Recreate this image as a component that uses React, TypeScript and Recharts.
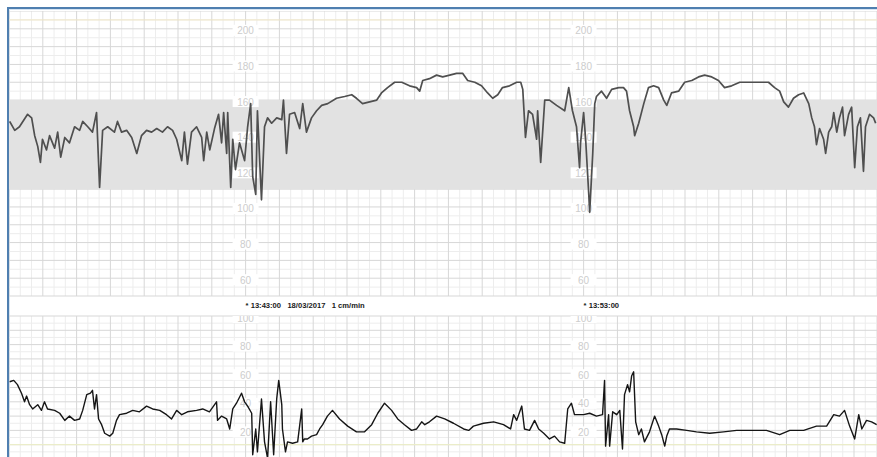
import React from 'react';
import { ComposedChart, Line, XAxis, YAxis, ReferenceLine, ReferenceArea, Scatter } from 'recharts';

// time axis: minutes since 13:36:00 (paper speed 1 cm/min)
const fhrMinutes = [
  0.02, 0.17, 0.31, 0.55, 0.67, 0.76, 0.85, 0.93, 0.99, 1.11, 1.2, 1.35, 1.44, 1.53, 1.65, 1.79, 1.94, 2.09, 2.18, 2.33,
  2.47, 2.59, 2.68, 2.77, 2.92, 3.12, 3.21, 3.33, 3.48, 3.63, 3.78, 3.92, 4.07, 4.22, 4.37, 4.54, 4.69, 4.84, 4.96, 5.11,
  5.19, 5.28, 5.4, 5.55, 5.7, 5.76, 5.85, 5.94, 6.08, 6.2, 6.29, 6.35, 6.44, 6.47, 6.56, 6.62, 6.7, 6.82, 6.97, 7.06,
  7.15, 7.21, 7.3, 7.35, 7.47, 7.56, 7.65, 7.77, 7.92, 8.07, 8.12, 8.21, 8.3, 8.45, 8.6, 8.69, 8.8, 8.95, 9.1, 9.25,
  9.43, 9.69, 9.93, 10.14, 10.28, 10.46, 10.67, 10.88, 11.02, 11.2, 11.41, 11.62, 11.85, 12.06, 12.15, 12.24, 12.44, 12.65, 12.83, 13.04,
  13.24, 13.42, 13.57, 13.78, 13.98, 14.16, 14.31, 14.46, 14.6, 14.81, 15.02, 15.14, 15.2, 15.28, 15.37, 15.49, 15.61, 15.64, 15.73, 15.85,
  15.99, 16.2, 16.44, 16.56, 16.67, 16.79, 16.88, 16.91, 17.0, 17.06, 17.15, 17.18, 17.27, 17.33, 17.38, 17.53, 17.68, 17.83, 18.04, 18.18,
  18.27, 18.36, 18.48, 18.51, 18.63, 18.78, 18.92, 19.07, 19.22, 19.37, 19.46, 19.6, 19.81, 19.99, 20.2, 20.4, 20.58, 20.79, 20.99, 21.17,
  21.38, 21.62, 21.91, 22.21, 22.47, 22.65, 22.8, 22.92, 23.06, 23.21, 23.36, 23.51, 23.66, 23.75, 23.83, 23.89, 23.98, 24.1, 24.16, 24.25,
  24.34, 24.4, 24.49, 24.57, 24.66, 24.72, 24.84, 24.93, 25.02, 25.1, 25.19, 25.28, 25.34, 25.46, 25.58, 25.64,
];
const fhrBpm = [
  148, 143, 145, 152, 150, 140, 134, 125, 138, 132, 140, 133, 142, 128, 139, 136, 145, 143, 148, 145,
  142, 153, 111, 143, 145, 142, 148, 142, 143, 139, 130, 140, 143, 142, 144, 142, 145, 143, 138, 126,
  142, 124, 142, 145, 139, 126, 142, 132, 144, 152, 136, 153, 130, 153, 111, 138, 121, 136, 126, 145,
  158, 117, 107, 154, 104, 145, 150, 147, 150, 149, 160, 130, 152, 153, 144, 158, 142, 150, 154, 157,
  158, 161, 162, 163, 161, 158, 159, 160, 164, 167, 170, 170, 168, 167, 165, 171, 172, 174, 173, 174,
  175, 175, 171, 170, 168, 164, 161, 163, 167, 168, 170, 170, 166, 139, 154, 152, 138, 154, 125, 160,
  160, 157, 154, 167, 154, 145, 122, 136, 153, 138, 108, 97, 130, 158, 162, 165, 161, 166, 167, 167,
  165, 154, 145, 140, 147, 158, 167, 168, 167, 160, 157, 164, 165, 170, 171, 173, 174, 173, 171, 167,
  168, 170, 170, 170, 170, 167, 165, 159, 156, 161, 163, 164, 158, 150, 145, 135, 144, 138, 130, 142,
  145, 153, 142, 150, 156, 140, 152, 156, 122, 145, 150, 120, 145, 152, 150, 147,
];

const uaMinutes = [
  0.02, 0.14, 0.25, 0.37, 0.46, 0.52, 0.61, 0.7, 0.85, 0.96, 1.05, 1.14, 1.35, 1.5, 1.65, 1.79, 1.94, 2.09, 2.18, 2.3,
  2.41, 2.47, 2.53, 2.59, 2.65, 2.74, 2.83, 2.98, 3.07, 3.18, 3.27, 3.48, 3.66, 3.86, 4.07, 4.25, 4.46, 4.66, 4.81, 4.96,
  5.11, 5.28, 5.55, 5.73, 5.93, 6.14, 6.17, 6.29, 6.44, 6.53, 6.62, 6.73, 6.88, 6.97, 7.06, 7.18, 7.21, 7.3, 7.35, 7.47,
  7.56, 7.65, 7.74, 7.83, 7.92, 7.98, 8.07, 8.09, 8.18, 8.24, 8.39, 8.54, 8.66, 8.69, 8.74, 8.83, 8.95, 9.1, 9.19, 9.28,
  9.42, 9.57, 9.78, 10.02, 10.28, 10.52, 10.73, 10.91, 11.11, 11.32, 11.5, 11.7, 11.91, 12.06, 12.21, 12.3, 12.44, 12.65, 12.89, 13.15,
  13.45, 13.6, 13.74, 14.04, 14.34, 14.63, 14.84, 14.93, 15.02, 15.17, 15.25, 15.4, 15.55, 15.67, 15.82, 15.99, 16.14, 16.29, 16.44, 16.53,
  16.64, 16.73, 17.0, 17.18, 17.38, 17.56, 17.62, 17.65, 17.74, 17.77, 17.86, 17.98, 18.07, 18.15, 18.21, 18.3, 18.36, 18.42, 18.48, 18.54,
  18.63, 18.71, 18.8, 18.95, 19.1, 19.22, 19.31, 19.4, 19.46, 19.54, 19.75, 20.05, 20.34, 20.73, 21.14, 21.53, 22.03, 22.41, 22.8, 23.1,
  23.51, 23.89, 24.19, 24.4, 24.57, 24.72, 24.87, 25.02, 25.14, 25.23, 25.37, 25.52, 25.67,
];
const uaPressure = [
  54, 55, 52, 46, 40, 44, 38, 35, 38, 34, 40, 35, 34, 32, 27, 30, 27, 28, 34, 45,
  46, 48, 35, 45, 28, 24, 18, 16, 18, 27, 31, 32, 34, 33, 37, 35, 34, 31, 28, 34,
  31, 33, 34, 35, 33, 40, 27, 30, 28, 21, 35, 39, 46, 40, 37, 32, 3, 21, 5, 42,
  12, 0.5, 40, 3, 42, 55, 38, 21, 5, 12, 11, 12, 35, 12, 14, 14, 16, 17, 21, 24,
  30, 34, 28, 23, 19, 19, 24, 32, 39, 34, 28, 24, 20, 21, 26, 24, 26, 30, 28, 25,
  21, 20, 23, 25, 26, 24, 21, 31, 27, 37, 21, 20, 27, 21, 18, 14, 16, 12, 11, 35,
  39, 31, 31, 32, 30, 31, 55, 9, 31, 9, 33, 31, 34, 7, 45, 52, 47, 58, 61, 26,
  17, 21, 12, 19, 30, 23, 17, 9, 16, 21, 21, 20, 19, 18, 19, 20, 20, 20, 17, 20,
  20, 23, 23, 31, 30, 34, 23, 14, 31, 21, 27, 26, 24,
];

const markerMinutes = [7, 17];
const markerTexts = ['*\u00a013:43:00\u00a0\u00a0 18/03/2017\u00a0\u00a0 1 cm/min', '*\u00a013:53:00'];
const fhrScaleLabels = [200, 180, 160, 140, 120, 100, 80, 60];
const uaScaleLabels = [100, 80, 60, 40, 20];

const T_MAX = 25.68;
const fhrData = fhrMinutes.map((t, i) => ({ t, v: fhrBpm[i] }));
const uaData = uaMinutes.map((t, i) => ({ t, v: uaPressure[i] }));
const fhrLabelData = markerMinutes.flatMap((t) => fhrScaleLabels.map((v) => ({ t, v })));
const uaLabelData = markerMinutes.flatMap((t) => uaScaleLabels.map((v) => ({ t, v })));

function offMinute(m: number) {
  return Math.abs(m - Math.round(m)) > 0.01;
}
const thirds = Array.from({ length: 78 }, (_, i) => i / 3).filter((m) => m <= T_MAX && offMinute(m));
const wholeMinutes = Array.from({ length: 26 }, (_, i) => i);
const fhrFine = Array.from({ length: 33 }, (_, i) => 50 + i * 5).filter((v) => v % 10 !== 0);
const fhrMajor = Array.from({ length: 17 }, (_, i) => 50 + i * 10);
const uaFine = Array.from({ length: 10 }, (_, i) => 5 + i * 10);
const uaMajor = Array.from({ length: 11 }, (_, i) => i * 10);

const FINE = '#ededed';
const MAJOR = '#d7d7d7';

const ScaleLabel = (props: any) => {
  const { cx, cy, payload } = props;
  return (
    <g>
      <rect x={cx - 13} y={cy - 4} width={26} height={11} fill="#ffffff" />
      <text x={cx} y={cy + 2} textAnchor="middle" dominantBaseline="central" fontSize={10} fill="#cdcdcd" fontFamily="Arial, 'Liberation Sans', sans-serif">
        {payload.v}
      </text>
    </g>
  );
};

const MarkerTick = (props: any) => {
  const { x, y, payload } = props;
  const idx = markerMinutes.indexOf(payload.value);
  return (
    <text x={x} y={y + 9} dominantBaseline="central" fontSize={7.6} fontWeight="bold" fill="#1a1a1a" fontFamily="Arial, 'Liberation Sans', sans-serif">
      {markerTexts[idx]}
    </text>
  );
};

function timeGrid() {
  return [
    ...thirds.map((m) => <ReferenceLine key={'tf' + m} x={m} stroke={FINE} strokeWidth={1} zIndex={-100} />),
    ...wholeMinutes.map((m) => <ReferenceLine key={'tm' + m} x={m} stroke={MAJOR} strokeWidth={1} zIndex={-90} />),
  ];
}

export default function App() {
  return (
    <div style={{ position: 'fixed', left: 0, top: 0, width: 877, height: 457, overflow: 'hidden', background: '#fff' }}>
      <div style={{ position: 'absolute', left: 7, top: 7, width: 880, height: 460, borderLeft: '2px solid #4f7fb0', borderTop: '2px solid #4f7fb0', boxShadow: 'inset 1px 1px 0 #d6e4f2' }} />
      <div style={{ position: 'absolute', left: 9, top: 11 }}>
        <ComposedChart width={868} height={305} data={fhrData} margin={{ top: 0, right: 0, bottom: 0, left: 0 }}>
          <XAxis dataKey="t" type="number" domain={[0, T_MAX]} allowDataOverflow ticks={markerMinutes} interval={0} tick={MarkerTick} axisLine={false} tickLine={false} tickSize={0} tickMargin={0} height={20} />
          <YAxis type="number" domain={[50, 210]} allowDataOverflow hide />
          {timeGrid()}
          {fhrFine.map((v) => <ReferenceLine key={'hf' + v} y={v} stroke={FINE} zIndex={-100} />)}
          {fhrMajor.map((v) => <ReferenceLine key={'hm' + v} y={v} stroke={MAJOR} zIndex={-90} />)}
          <ReferenceLine y={205} stroke="#f0e6c4" zIndex={-85} />
          <ReferenceArea y1={110} y2={160} fill="#e2e2e2" fillOpacity={1} stroke="none" zIndex={-50} />
          <Scatter data={fhrLabelData} dataKey="v" shape={ScaleLabel} isAnimationActive={false} zIndex={300} />
          <Line dataKey="v" type="linear" stroke="#4f4f4f" strokeWidth={1.7} dot={false} isAnimationActive={false} strokeLinejoin="round" />
        </ComposedChart>
      </div>
      <div style={{ position: 'absolute', left: 9, top: 311 }}>
        <ComposedChart width={868} height={148} data={uaData} margin={{ top: 5, right: 0, bottom: 0, left: 0 }}>
          <XAxis dataKey="t" type="number" domain={[0, T_MAX]} allowDataOverflow hide />
          <YAxis type="number" domain={[0, 100]} allowDataOverflow hide />
          {timeGrid()}
          {uaFine.map((v) => <ReferenceLine key={'uf' + v} y={v} stroke={FINE} zIndex={-100} />)}
          {uaMajor.map((v) => <ReferenceLine key={'um' + v} y={v} stroke={MAJOR} zIndex={-90} />)}
          <ReferenceLine y={10} stroke="#eef0c4" zIndex={-85} />
          <Scatter data={uaLabelData} dataKey="v" shape={ScaleLabel} isAnimationActive={false} zIndex={300} />
          <Line dataKey="v" type="linear" stroke="#151515" strokeWidth={1.4} dot={false} isAnimationActive={false} strokeLinejoin="round" />
        </ComposedChart>
      </div>
    </div>
  );
}
